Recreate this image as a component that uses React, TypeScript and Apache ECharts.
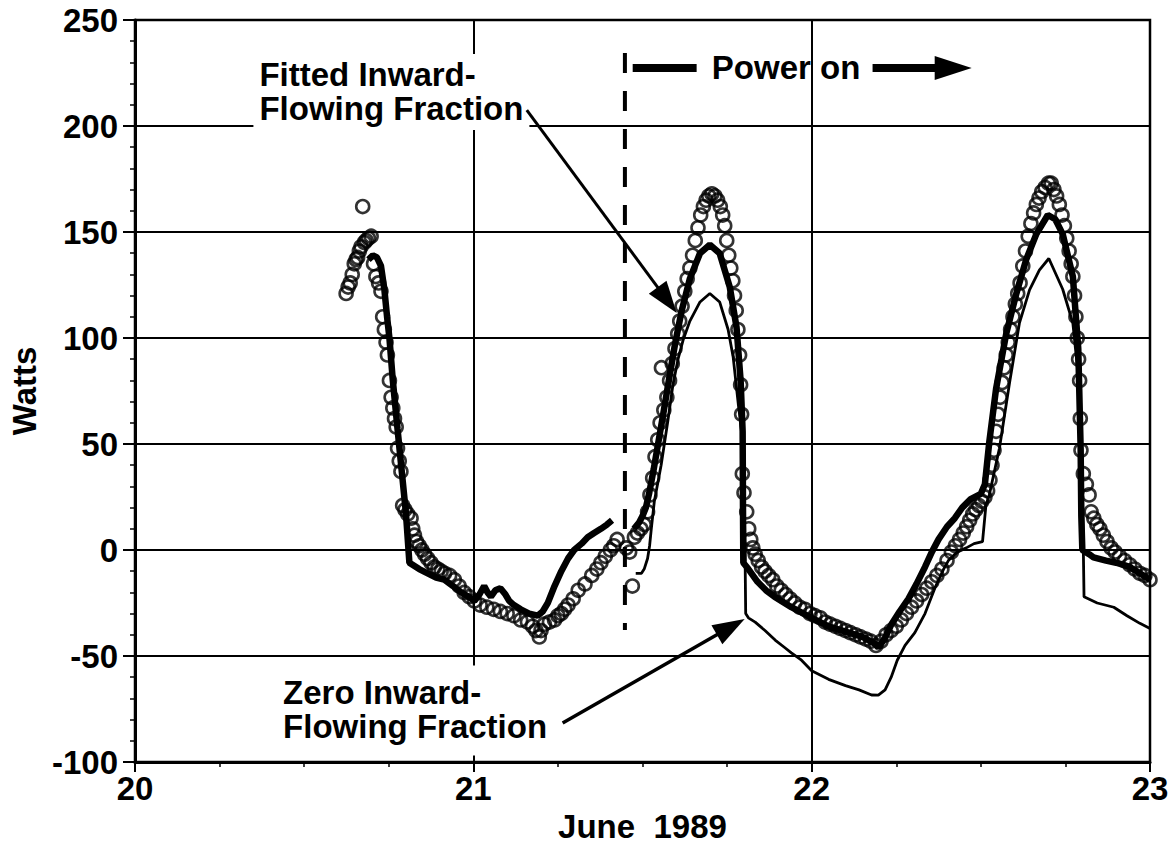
import React, { useEffect, useRef } from "react";
import * as echarts from "echarts";

// ---------- axes ----------
const X_MIN = 20;
const X_MAX = 23;
const X_STEP = 1;
const Y_MIN = -100;
const Y_MAX = 250;
const Y_STEP = 50;
const X_NAME = "June  1989";
const Y_NAME = "Watts";

// ---------- data (day of June 1989, Watts) ----------
const measured: number[][] = [
  [20.624,121],[20.63,124],[20.636,126],[20.642,130],[20.648,135],[20.653,137],[20.658,138],[20.663,141],[20.668,143],[20.673,162],
  [20.678,145],[20.683,146],[20.69,147],[20.698,148],[20.705,135],[20.712,129],[20.72,126],[20.727,122],[20.732,110],[20.737,104],
  [20.742,98],[20.746,92],[20.752,80],[20.757,72],[20.762,67],[20.767,62],[20.772,58],[20.776,48],[20.781,42],[20.786,37],
  [20.791,21],[20.798,19],[20.806,17],[20.816,15],[20.821,10],[20.826,7],[20.832,4],[20.84,2],[20.848,0],[20.856,-2],
  [20.865,-4],[20.875,-6],[20.885,-8],[20.895,-9],[20.905,-10],[20.915,-11],[20.93,-12],[20.944,-14],[20.958,-17],[20.973,-20],
  [20.988,-22],[21.003,-24],[21.02,-26],[21.04,-27],[21.06,-28],[21.08,-29],[21.1,-30],[21.12,-31],[21.14,-33],[21.16,-34],
  [21.175,-36],[21.185,-38],[21.195,-41],[21.2,-38],[21.21,-35],[21.225,-34],[21.24,-33],[21.25,-31],[21.26,-30],[21.27,-28],
  [21.28,-26],[21.295,-23],[21.31,-19],[21.33,-16],[21.35,-12],[21.365,-9],[21.377,-6],[21.39,-3],[21.405,0],[21.415,2],
  [21.425,5],[21.452,1],[21.462,-1],[21.47,-17],[21.476,6],[21.485,8],[21.495,10],[21.505,12],[21.515,18],[21.522,26],
  [21.53,34],[21.537,44],[21.545,52],[21.552,60],[21.556,86],[21.563,66],[21.572,72],[21.58,80],[21.588,88],[21.596,95],
  [21.604,102],[21.61,108],[21.617,115],[21.625,122],[21.632,128],[21.64,133],[21.648,139],[21.656,146],[21.664,152],[21.672,158],
  [21.68,162],[21.688,165],[21.696,167],[21.705,168],[21.714,167],[21.722,165],[21.73,162],[21.737,158],[21.743,153],[21.749,146],
  [21.755,139],[21.761,133],[21.767,127],[21.772,120],[21.777,113],[21.782,104],[21.787,92],[21.79,78],[21.793,64],[21.795,36],
  [21.8,27],[21.808,18],[21.814,10],[21.82,5],[21.826,1],[21.833,-2],[21.842,-5],[21.852,-8],[21.862,-10],[21.873,-12],
  [21.885,-14],[21.897,-17],[21.91,-19],[21.923,-21],[21.936,-23],[21.95,-25],[21.965,-27],[21.98,-28],[21.995,-30],[22.01,-31],
  [22.025,-32],[22.04,-34],[22.055,-35],[22.07,-36],[22.085,-37],[22.1,-38],[22.115,-39],[22.13,-40],[22.145,-41],[22.16,-42],
  [22.175,-43],[22.19,-45],[22.205,-43],[22.22,-40],[22.235,-38],[22.25,-36],[22.265,-33],[22.28,-30],[22.295,-27],[22.31,-24],
  [22.325,-21],[22.34,-18],[22.355,-15],[22.37,-12],[22.385,-9],[22.4,-5],[22.413,-1],[22.425,2],[22.437,5],[22.448,8],
  [22.458,11],[22.467,14],[22.476,17],[22.485,19],[22.494,21],[22.503,23],[22.512,25],[22.52,28],[22.527,33],[22.533,40],
  [22.539,47],[22.545,56],[22.551,64],[22.557,72],[22.563,79],[22.569,86],[22.575,92],[22.581,98],[22.588,104],[22.595,110],
  [22.602,116],[22.609,121],[22.616,126],[22.624,134],[22.632,141],[22.64,148],[22.648,154],[22.656,159],[22.664,163],[22.672,166],
  [22.68,169],[22.69,171],[22.7,173],[22.708,173],[22.716,170],[22.724,167],[22.732,163],[22.74,158],[22.747,153],[22.754,147],
  [22.761,141],[22.767,135],[22.772,129],[22.777,120],[22.781,110],[22.785,100],[22.789,90],[22.792,80],[22.794,62],[22.796,47],
  [22.803,36],[22.812,31],[22.82,26],[22.826,18],[22.834,15],[22.843,12],[22.852,10],[22.862,7],[22.873,4],[22.885,1],
  [22.897,-1],[22.91,-3],[22.925,-5],[22.94,-7],[22.955,-9],[22.97,-11],[22.985,-12],[23.0,-14],
];

const fittedBefore: number[][] = [
  [20.69,137],[20.703,139],[20.715,138],[20.727,134],[20.737,123],[20.745,110],[20.752,100],[20.762,80],[20.776,57],[20.791,33],
  [20.801,17],[20.811,-6],[20.84,-9],[20.865,-11],[20.89,-13],[20.914,-14],[20.94,-17],[20.964,-20],[20.985,-22],[21.003,-24],
  [21.018,-21],[21.032,-17],[21.042,-20],[21.052,-22],[21.065,-19],[21.08,-18],[21.095,-21],[21.106,-24],[21.12,-26],[21.14,-28],
  [21.165,-30],[21.19,-31],[21.205,-29],[21.22,-25],[21.24,-17],[21.26,-10],[21.28,-4],[21.298,0],[21.32,3],[21.338,6],
  [21.357,8],[21.377,10],[21.395,12],[21.41,14],
];

const fittedAfter: number[][] = [
  [21.475,10],[21.49,13],[21.5,16],[21.51,20],[21.52,27],[21.533,38],[21.546,50],[21.56,63],[21.58,82],[21.596,97],
  [21.616,113],[21.64,128],[21.67,140],[21.699,144],[21.728,140],[21.758,124],[21.778,105],[21.79,80],[21.796,56],[21.797,20],
  [21.798,-6],[21.813,-9],[21.84,-15],[21.865,-19],[21.89,-22],[21.94,-27],[22.0,-32],[22.05,-36],[22.1,-38.5],[22.15,-41],
  [22.185,-44],[22.197,-46],[22.215,-42],[22.236,-35],[22.26,-29],[22.286,-23],[22.31,-16],[22.335,-8],[22.355,-1],[22.375,5],
  [22.4,11],[22.423,15],[22.445,20],[22.47,24],[22.5,26.5],[22.512,31],[22.525,51],[22.545,76],[22.575,102],[22.605,121],
  [22.634,137],[22.664,149],[22.698,158],[22.72,156],[22.742,149],[22.772,129],[22.788,95],[22.795,48],[22.797,16],[22.8,0],
  [22.82,-2],[22.833,-3.5],[22.87,-5],[22.9,-6],[22.94,-8],[22.97,-11],[23.0,-14],
];

const zeroInward: number[][] = [
  [21.48,-11],[21.497,-11],[21.505,-9],[21.515,-4],[21.521,2],[21.526,10],[21.535,23],[21.555,40],[21.575,61],[21.59,78],
  [21.605,90],[21.62,99],[21.64,108],[21.67,117],[21.699,121],[21.728,117],[21.753,104],[21.768,91],[21.783,69],[21.793,56],
  [21.8,30],[21.803,0],[21.805,-30],[21.813,-32],[21.833,-34],[21.862,-38],[21.892,-42.5],[21.92,-46],[21.94,-48.5],[21.97,-52],
  [22.0,-57],[22.05,-61],[22.1,-64],[22.14,-66],[22.177,-68.4],[22.197,-68.5],[22.217,-66],[22.235,-60],[22.253,-52],[22.276,-45],
  [22.305,-39],[22.335,-30],[22.364,-18],[22.39,-9],[22.404,-5],[22.43,-1],[22.457,1],[22.48,3],[22.505,4],[22.515,21],
  [22.525,26],[22.555,48],[22.585,79],[22.614,107],[22.644,122.7],[22.673,132],[22.701,137.5],[22.742,123],[22.772,107],[22.79,79],
  [22.8,32],[22.803,0],[22.805,-22],[22.844,-25],[22.893,-27],[22.932,-31],[22.97,-34.6],[23.0,-37],
];

// ---------- annotations (data coordinates) ----------
const POWER_ON_X = 21.448;
const POWER_ON_SPAN = [234.4, -37.7];
const POWER_TEXT = "Power on";
const POWER_Y = 227.4;
const POWER_BAR = [21.471, 21.66];
const POWER_TEXT_X = 21.705;
const POWER_ARROW = [22.18, 22.473];
const FITTED_TEXT = "Fitted Inward-\nFlowing Fraction";
const FITTED_POS = [20.35, 234.0];
const FITTED_ARROW = [[21.158, 207.5], [21.601, 111.8]];
const ZERO_TEXT = "Zero Inward-\nFlowing Fraction";
const ZERO_POS = [20.42, -54.5];
const ZERO_ARROW = [[21.264, -81.6], [21.802, -32.5]];

const FONT = '"Liberation Sans", Arial, Helvetica, sans-serif';

export default function App() {
  const ref = useRef<HTMLDivElement>(null);

  useEffect(() => {
    if (!ref.current) return;
    const chart = echarts.init(ref.current, null, { renderer: "svg" });
    const axisText = { color: "#000", fontFamily: FONT, fontWeight: "bold" as const, fontSize: 33 };
    chart.setOption({
      animation: false,
      backgroundColor: "#fff",
      grid: { left: 135, right: 22, top: 20, bottom: 87, show: true, borderColor: "#000", borderWidth: 2.5 },
      xAxis: {
        type: "value",
        min: X_MIN,
        max: X_MAX,
        interval: X_STEP,
        name: X_NAME,
        nameLocation: "middle",
        nameGap: 38,
        nameTextStyle: { ...axisText },
        axisLine: { show: true, onZero: false, lineStyle: { color: "#000", width: 3 } },
        axisTick: { show: true, inside: false, length: 10, lineStyle: { color: "#000", width: 2 } },
        minorTick: { show: true, splitNumber: 4, length: 5, lineStyle: { color: "#000", width: 1.5 } },
        axisLabel: { ...axisText, margin: 10 },
        splitLine: { show: true, lineStyle: { color: "#000", width: 2 } },
      },
      yAxis: {
        type: "value",
        min: Y_MIN,
        max: Y_MAX,
        interval: Y_STEP,
        name: Y_NAME,
        nameLocation: "middle",
        nameRotate: 90,
        nameGap: 88,
        nameTextStyle: { ...axisText },
        axisLine: { show: true, onZero: false, lineStyle: { color: "#000", width: 3 } },
        axisTick: { show: true, inside: false, length: 12, lineStyle: { color: "#000", width: 2 } },
        minorTick: { show: true, splitNumber: 5, length: 5, lineStyle: { color: "#000", width: 1.5 } },
        axisLabel: { ...axisText, margin: 17 },
        splitLine: { show: true, lineStyle: { color: "#000", width: 2 } },
      },
      series: [
        {
          type: "scatter",
          name: "Measured",
          data: measured,
          symbol: "circle",
          symbolSize: 13,
          itemStyle: { color: "rgba(0,0,0,0)", borderColor: "#000", borderWidth: 2.6 },
          z: 2,
        },
        {
          type: "line",
          name: "Fitted Inward-Flowing Fraction",
          data: fittedBefore,
          showSymbol: false,
          lineStyle: { color: "#000", width: 6.5 },
          z: 3,
        },
        {
          type: "line",
          name: "Fitted Inward-Flowing Fraction",
          data: fittedAfter,
          showSymbol: false,
          lineStyle: { color: "#000", width: 6.5 },
          z: 3,
        },
        {
          type: "line",
          name: "Zero Inward-Flowing Fraction",
          data: zeroInward,
          showSymbol: false,
          lineStyle: { color: "#000", width: 2.8 },
          z: 4,
        },
      ],
    });

    const toPx = (p: number[]) => chart.convertToPixel({ gridIndex: 0 }, p) as number[];
    const arrow = (from: number[], to: number[], headLen: number, headW: number, shaftW: number) => {
      const a = toPx(from);
      const b = toPx(to);
      const dx = b[0] - a[0];
      const dy = b[1] - a[1];
      const L = Math.hypot(dx, dy);
      const ux = dx / L, uy = dy / L;
      const nx = -uy, ny = ux;
      const bx = b[0] - ux * headLen, by = b[1] - uy * headLen;
      return [
        { type: "line", z: 100, shape: { x1: a[0], y1: a[1], x2: bx + ux * 2, y2: by + uy * 2 }, style: { stroke: "#000", lineWidth: shaftW } },
        {
          type: "polygon",
          z: 100,
          shape: { points: [[b[0], b[1]], [bx + (nx * headW) / 2, by + (ny * headW) / 2], [bx - (nx * headW) / 2, by - (ny * headW) / 2]] },
          style: { fill: "#000" },
        },
      ];
    };
    const label = (text: string, pos: number[], padding: number[]) => {
      const p = toPx(pos);
      return {
        type: "text",
        z: 90,
        x: p[0],
        y: p[1],
        style: {
          text,
          fill: "#000",
          font: `bold 33px ${FONT}`,
          lineHeight: 34,
          backgroundColor: "#fff",
          padding,
          align: "left",
          verticalAlign: "top",
          textAlign: "left",
          textVerticalAlign: "top",
        },
      };
    };

    const d0 = toPx([POWER_ON_X, POWER_ON_SPAN[0]]);
    const d1 = toPx([POWER_ON_X, POWER_ON_SPAN[1]]);
    const pb0 = toPx([POWER_BAR[0], POWER_Y]);
    const pb1 = toPx([POWER_BAR[1], POWER_Y]);
    const pt = toPx([POWER_TEXT_X, POWER_Y]);

    chart.setOption({
      graphic: [
        label(FITTED_TEXT, FITTED_POS, [4, 6, 4, 6]),
        label(ZERO_TEXT, ZERO_POS, [10, 6, 12, 6]),
        {
          type: "line",
          z: 100,
          shape: { x1: d0[0], y1: d0[1], x2: d1[0], y2: d1[1] },
          style: { stroke: "#000", lineWidth: 4, lineDash: [20, 18] },
        },
        {
          type: "line",
          z: 100,
          shape: { x1: pb0[0], y1: pb0[1], x2: pb1[0], y2: pb1[1] },
          style: { stroke: "#000", lineWidth: 8 },
        },
        {
          type: "text",
          z: 100,
          x: pt[0],
          y: pt[1],
          style: {
            text: POWER_TEXT,
            fill: "#000",
            font: `bold 33px ${FONT}`,
            align: "left",
            verticalAlign: "middle",
            textAlign: "left",
            textVerticalAlign: "middle",
          },
        },
        ...arrow([POWER_ARROW[0], POWER_Y], [POWER_ARROW[1], POWER_Y], 37, 24, 8),
        ...arrow(FITTED_ARROW[0], FITTED_ARROW[1], 32, 22, 3),
        ...arrow(ZERO_ARROW[0], ZERO_ARROW[1], 32, 22, 3.5),
      ],
    });

    return () => chart.dispose();
  }, []);

  return (
    <div
      ref={ref}
      style={{ position: "fixed", left: 0, top: 0, width: 1172, height: 849, background: "#fff" }}
    />
  );
}
